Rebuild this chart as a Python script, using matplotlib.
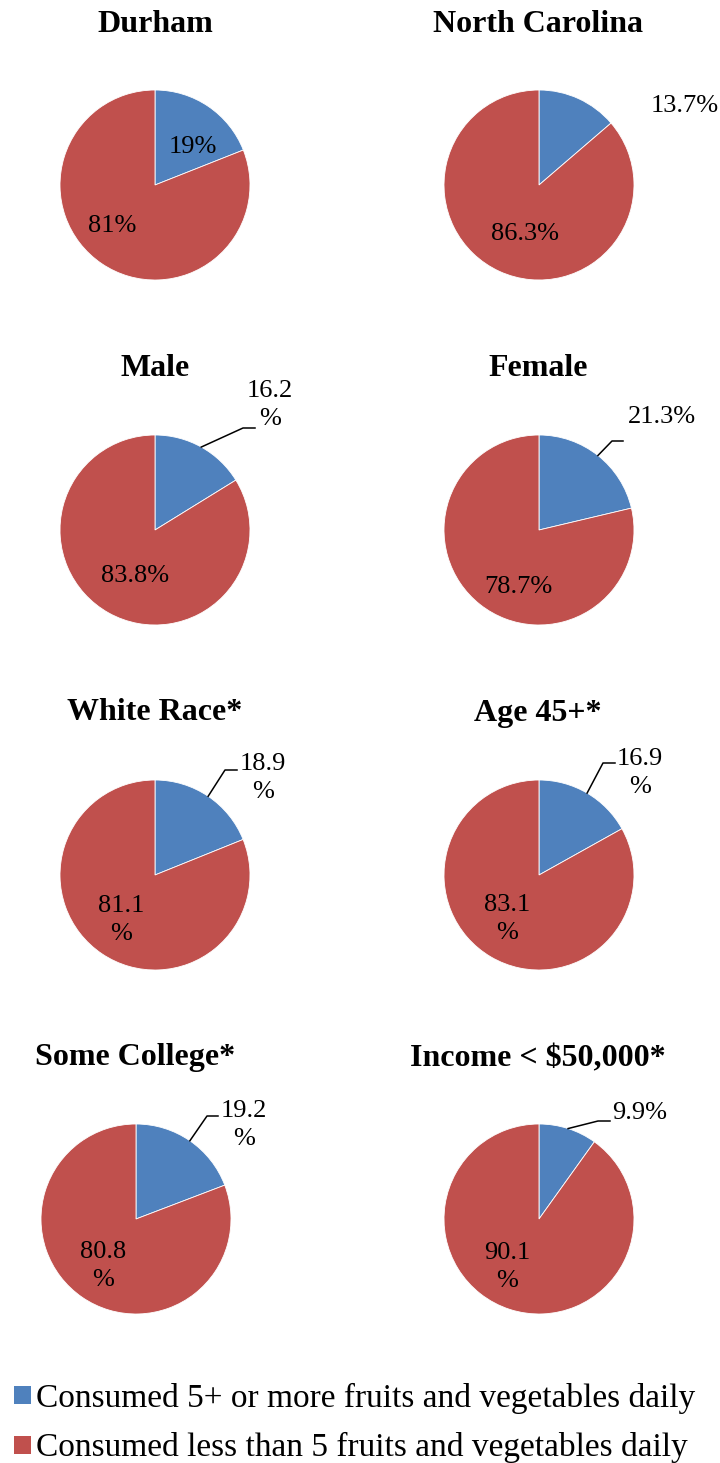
import numpy as np
import matplotlib
matplotlib.use("Agg")
import matplotlib.pyplot as plt
from matplotlib.patches import Patch

plt.rcParams['font.family'] = ['Liberation Serif', 'DejaVu Serif']

# data
titles = ["Durham", "North Carolina", "Male", "Female",
          "White Race*", "Age 45+*", "Some College*", "Income < $50,000*"]
blue_pct = [19, 13.7, 16.2, 21.3, 18.9, 16.9, 19.2, 9.9]
red_pct = [81, 86.3, 83.8, 78.7, 81.1, 83.1, 80.8, 90.1]
blue_labels = ["19%", "13.7%", "16.2\n%", "21.3%", "18.9\n%", "16.9\n%", "19.2\n%", "9.9%"]
red_labels = ["81%", "86.3%", "83.8%", "78.7%", "81.1\n%", "83.1\n%", "80.8\n%", "90.1\n%"]
legend_labels = ["Consumed 5+ or more fruits and vegetables daily",
                 "Consumed less than 5 fruits and vegetables daily"]
colors = ["#4F81BD", "#C0504D"]

# layout (pixels, y measured from the top)
W, H = 720, 1463
R = 95
centers = [(155, 185), (539, 185), (155, 530), (539, 530),
           (155, 875), (539, 875), (136, 1219), (539, 1219)]
title_pos = [(155, 24), (538, 24), (155, 368), (538, 368),
             (155, 713), (538, 713), (135, 1058), (538, 1059)]
blue_pos = [(193, 147), (685, 106), (270, 405), (662, 417),
            (263, 778), (640, 773), (244, 1125), (640, 1113)]
red_pos = [(112, 226), (525, 234), (135, 576), (518, 587),
           (121, 920), (507, 919), (103, 1266), (507, 1267)]
# leader line elbow / end, None where there is no line
leaders = [None, None, ((243, 428), (255, 428)), ((612, 441), (623, 441)),
           ((225, 770), (237, 770)), ((603, 763), (615, 763)),
           ((207, 1116), (218, 1116)), ((598, 1121), (610, 1121))]

fig = plt.figure(figsize=(W / 100, H / 100), dpi=100)
ax = fig.add_axes([0, 0, 1, 1])

for i in range(len(titles)):
    cx, cy = centers[i]
    ax.pie([blue_pct[i], red_pct[i]], colors=colors, startangle=90, counterclock=False,
           center=(cx, H - cy), radius=R, frame=True,
           wedgeprops=dict(edgecolor="white", linewidth=0.6))
    ax.text(title_pos[i][0], H - title_pos[i][1], titles[i], ha="center", va="center",
            fontsize=23, fontweight="bold")
    ax.text(blue_pos[i][0], H - blue_pos[i][1], blue_labels[i], ha="center", va="center",
            fontsize=19, linespacing=1.32)
    ax.text(red_pos[i][0], H - red_pos[i][1], red_labels[i], ha="center", va="center",
            fontsize=19, linespacing=1.32)
    if leaders[i] is not None:
        mid = np.radians(90 - blue_pct[i] / (blue_pct[i] + red_pct[i]) * 180)
        sx, sy = cx + R * np.cos(mid), (H - cy) + R * np.sin(mid)
        (ex, ey), (fx, fy) = leaders[i]
        ax.plot([sx, ex, fx], [sy, H - ey, H - fy], color="black", lw=1.1)

handles = [Patch(facecolor=c) for c in colors]
ax.legend(handles, legend_labels, loc="upper left", bbox_to_anchor=(14 / W, 1 - 1383 / H),
          frameon=False, fontsize=24, handlelength=0.52, handleheight=0.45,
          handletextpad=0.15, labelspacing=0.55, borderaxespad=0, borderpad=0)

ax.set_xlim(0, W)
ax.set_ylim(0, H)
ax.set_aspect("equal")
ax.axis("off")
fig.savefig("out.png", dpi=100)
